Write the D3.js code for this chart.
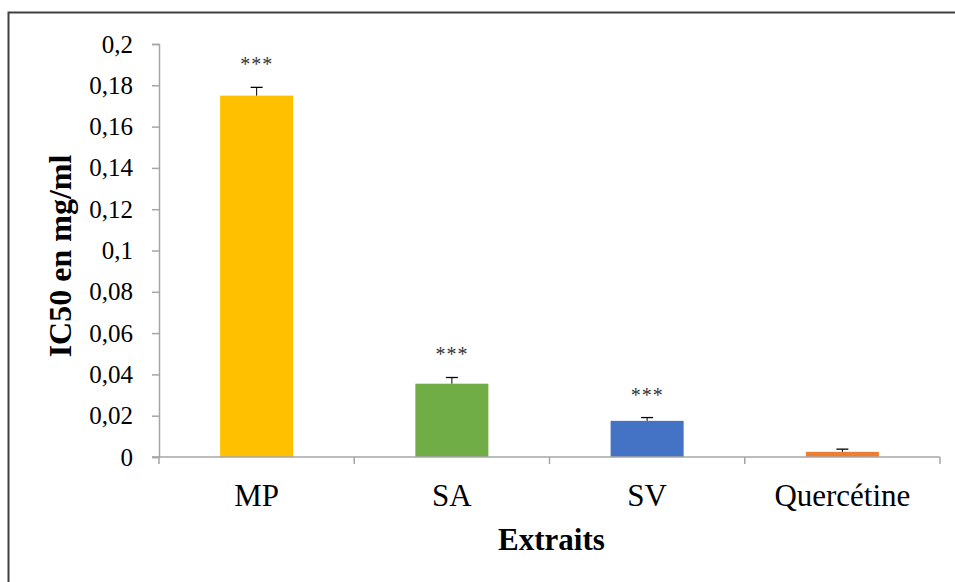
<!DOCTYPE html>
<html>
<head>
<meta charset="utf-8">
<script src="https://cdn.jsdelivr.net/npm/d3@7"></script>
<style>
  html, body { margin: 0; padding: 0; background: #fff; }
  svg { display: block; }
</style>
</head>
<body>
<script>
// IC50 values (mg/ml) per extract, with standard error and significance marks
const categories = ["MP", "SA", "SV", "Quercétine"];
const values = [0.175, 0.0355, 0.0175, 0.0025];
const errors = [0.004, 0.003, 0.0016, 0.0013];
const signif = ["***", "***", "***", ""];
const colors = ["#FFC000", "#70AD47", "#4472C4", "#ED7D31"];
const yTicks = [0, 0.02, 0.04, 0.06, 0.08, 0.1, 0.12, 0.14, 0.16, 0.18, 0.2];
const yTitle = "IC50 en mg/ml";
const xTitle = "Extraits";

const W = 955, H = 582;
const margin = { left: 159, right: 15, top: 44, bottom: 125 };
const serif = "'Liberation Serif', 'Times New Roman', serif";

const svg = d3.select("body").append("svg")
  .attr("width", W).attr("height", H);

// frame lines (top and left)
svg.append("path")
  .attr("d", `M8.5,${H} V12.5 H${W}`)
  .attr("fill", "none").attr("stroke", "#404040").attr("stroke-width", 2);

const x = d3.scaleBand()
  .domain(categories)
  .range([margin.left, W - margin.right])
  .paddingInner(0.626).paddingOuter(0.313);

const y = d3.scaleLinear()
  .domain([0, 0.2])
  .range([H - margin.bottom, margin.top]);

const fmt = d => d === 0 ? "0" : String(+d.toFixed(2)).replace(".", ",");

// y axis
const yAxis = svg.append("g")
  .attr("transform", `translate(${margin.left},0)`)
  .call(d3.axisLeft(y).tickValues(yTicks).tickFormat(fmt).tickSize(7).tickPadding(19));
yAxis.select(".domain").attr("stroke", "#A6A6A6").attr("stroke-width", 1.5);
yAxis.selectAll(".tick line").attr("stroke", "#A6A6A6").attr("stroke-width", 1.5);
yAxis.selectAll(".tick text")
  .attr("font-family", serif)
  .attr("font-size", 25).attr("fill", "#000");

// x axis baseline with category-boundary ticks
const y0 = y(0);
const band = x.step();
const bounds = d3.range(categories.length + 1).map(i => margin.left + i * band);
svg.selectAll(".xtick").data(bounds).join("line")
  .attr("class", "xtick")
  .attr("x1", d => d).attr("x2", d => d)
  .attr("y1", y0).attr("y2", y0 + 7)
  .attr("stroke", "#A6A6A6").attr("stroke-width", 1.5);

// bars
svg.selectAll(".bar").data(categories).join("rect")
  .attr("class", "bar")
  .attr("x", d => x(d))
  .attr("width", x.bandwidth())
  .attr("y", (d, i) => y(values[i]))
  .attr("height", (d, i) => y0 - y(values[i]))
  .attr("fill", (d, i) => colors[i]);

// baseline drawn over the bars
svg.append("line")
  .attr("x1", margin.left - 7).attr("x2", W - margin.right)
  .attr("y1", y0).attr("y2", y0)
  .attr("stroke", "#A6A6A6").attr("stroke-width", 1.5);

// error bars (upper only)
const cx = d => x(d) + x.bandwidth() / 2;
const err = svg.append("g");
categories.forEach((c, i) => {
  const top = y(values[i] + errors[i]);
  err.append("line")
    .attr("x1", cx(c)).attr("x2", cx(c))
    .attr("y1", y(values[i])).attr("y2", top)
    .attr("stroke", "#000").attr("stroke-width", 1);
  err.append("line")
    .attr("x1", cx(c) - 6).attr("x2", cx(c) + 6)
    .attr("y1", top).attr("y2", top)
    .attr("stroke", "#000").attr("stroke-width", 1.3);
});

// significance marks
svg.selectAll(".sig").data(categories).join("text")
  .attr("class", "sig")
  .attr("x", d => cx(d))
  .attr("y", (d, i) => y(values[i] + errors[i]) - 16)
  .attr("text-anchor", "middle")
  .attr("font-family", serif)
  .attr("font-size", 20).attr("letter-spacing", 1).attr("fill", "#333")
  .text((d, i) => signif[i]);

// category labels
svg.selectAll(".xlab").data(categories).join("text")
  .attr("class", "xlab")
  .attr("x", d => cx(d))
  .attr("y", y0 + 49)
  .attr("text-anchor", "middle")
  .attr("font-family", serif)
  .attr("font-size", 31).attr("fill", "#000")
  .text(d => d);

// axis titles
svg.append("text")
  .attr("x", (margin.left + W - margin.right) / 2 + 2)
  .attr("y", 550)
  .attr("text-anchor", "middle")
  .attr("font-family", serif)
  .attr("font-weight", "bold").attr("font-size", 31).attr("fill", "#000")
  .text(xTitle);

svg.append("text")
  .attr("transform", `translate(71,256) rotate(-90)`)
  .attr("text-anchor", "middle")
  .attr("font-family", serif)
  .attr("font-weight", "bold").attr("font-size", 32).attr("fill", "#000")
  .text(yTitle);
</script>
</body>
</html>
